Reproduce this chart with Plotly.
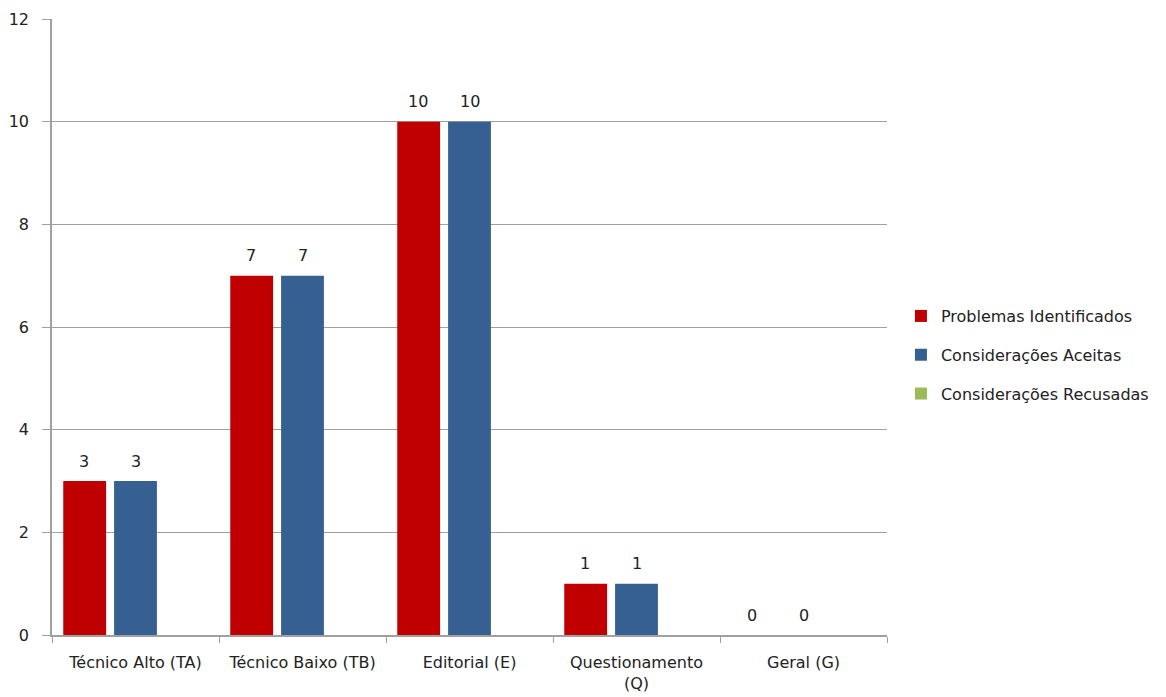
import plotly.graph_objects as go

categories = ["Técnico Alto (TA)", "Técnico Baixo (TB)", "Editorial (E)", "Questionamento<br>(Q)", "Geral (G)"]
problemas = [3, 7, 10, 1, 0]
aceitas = [3, 7, 10, 1, 0]
recusadas = [0, 0, 0, 0, 0]

FONT = "DejaVu Sans"
FS = 16
fig = go.Figure()
fig.add_trace(go.Bar(x=categories, y=problemas, name="Problemas Identificados",
                     marker=dict(color="#C00000", line=dict(width=0)), legendgroup="a"))
fig.add_trace(go.Bar(x=categories, y=aceitas, name="Considerações Aceitas",
                     marker=dict(color="#376092", line=dict(width=0)), legendgroup="b"))
fig.add_trace(go.Bar(x=categories, y=recusadas, name="Considerações Recusadas",
                     marker=dict(color="#9BBB59", line=dict(width=0)), legendgroup="c"))

# data labels above the two labelled series
slot_px = 167.6 * (1 - 0.087) / 3
for vals, shift in ((problemas, -slot_px), (aceitas, 0)):
    for c, v in zip(categories, vals):
        fig.add_annotation(x=c, y=v, text=str(v), showarrow=False, xshift=shift, yshift=20,
                           font=dict(size=FS, family=FONT, color="#222"))

fig.update_layout(
    width=1166, height=697,
    margin=dict(l=52, r=276, t=19, b=62),
    plot_bgcolor="white", paper_bgcolor="white",
    barmode="group", bargap=0.087, bargroupgap=0.157,
    font=dict(family=FONT, size=FS, color="#222"),
    showlegend=True,
    legend=dict(x=1.0167, y=0.4545, xanchor="left", yanchor="middle",
                font=dict(size=FS, family=FONT, color="#222"), tracegroupgap=15,
                itemwidth=30),
)
fig.update_xaxes(showline=True, linecolor="#a0a0a0", linewidth=1.5, automargin=False,
                 ticks="outside", tickson="boundaries", ticklen=6, tickcolor="#a0a0a0",
                 ticklabelstandoff=12,
                 tickfont=dict(size=FS, family=FONT, color="#222"))
fig.update_yaxes(range=[0, 12], dtick=2, showline=True, linecolor="#a0a0a0", linewidth=1.5,
                 automargin=False,
                 ticks="outside", ticklen=8, tickcolor="#a0a0a0", ticklabelstandoff=10,
                 showgrid=True, gridcolor="#a0a0a0", gridwidth=1, zeroline=False,
                 tickfont=dict(size=FS, family=FONT, color="#222"))
fig.write_html("out.html")
